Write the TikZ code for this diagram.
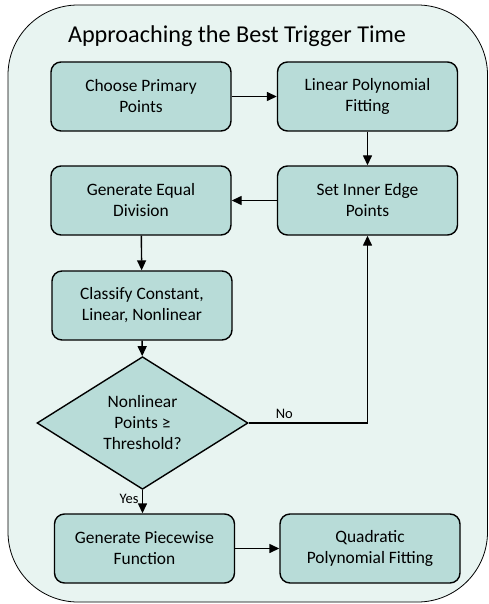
\documentclass[tikz,border=0pt]{standalone}
\usepackage{fontspec}
\setmainfont{Carlito}
\usepackage{xcolor}
\usetikzlibrary{shapes.geometric, arrows.meta, positioning}
\definecolor{framefill}{RGB}{232, 244, 241}
\definecolor{boxfill}{RGB}{184, 220, 216}

\begin{document}
\begin{tikzpicture}[
    x=1pt, y=-1pt,
    font=\fontsize{17.4}{21}\selectfont,
    process/.style={rectangle, draw=black, line width=1.4pt, fill=boxfill, rounded corners=10pt,
                    minimum width=180pt, minimum height=69pt, align=center, inner sep=2pt},
    decision/.style={diamond, draw=black, line width=1.4pt, fill=boxfill,
                     minimum width=211pt, minimum height=118pt, inner sep=0pt, align=center},
    flow/.style={-{Triangle[length=10pt, width=9pt]}, line width=1.4pt},
    tag/.style={font=\fontsize{14.5}{16}\selectfont}
]
\useasboundingbox (0,0) rectangle (488,604);

% Frame
\draw[fill=framefill, line width=0.8pt, rounded corners=70pt] (8,5) rectangle (487.5,602);
\node (title) at (237,36) {\fontsize{24.2}{28}\selectfont Approaching the Best Trigger Time};

% Steps
\node[process] (choose) at (141,96.5) {Choose Primary\\Points};
\node[process] (linfit) at (367.5,96.5) {Linear Polynomial\\Fitting};
\node[process] (inner) at (367.5,200.5) {Set Inner Edge\\Points};
\node[process] (equal) at (141,200.5) {Generate Equal\\Division};
\node[process] (classify) at (142,305.5) {Classify Constant,\\Linear, Nonlinear};
\node[decision] (check) at (142.5,423) {Nonlinear\\Points ≥\\Threshold?};
\node[process] (piece) at (144.5,548.5) {Generate Piecewise\\Function};
\node[process] (quadfit) at (370,548.5) {Quadratic\\Polynomial Fitting};

% Arrows
\draw[flow] (choose) -- (linfit);
\draw[flow] (linfit) -- (inner);
\draw[flow] (inner) -- (equal);
\draw[flow] (equal) -- (classify);
\draw[flow] (classify) -- (check);
\draw[flow] (check.east) -| node[pos=0.15, above, tag] {No} (inner.south);
\draw[flow] (check.south) -- node[pos=0.4, left, tag] {Yes} (piece.north -| check.south);
\draw[flow] (piece) -- (quadfit);

\end{tikzpicture}
\end{document}
